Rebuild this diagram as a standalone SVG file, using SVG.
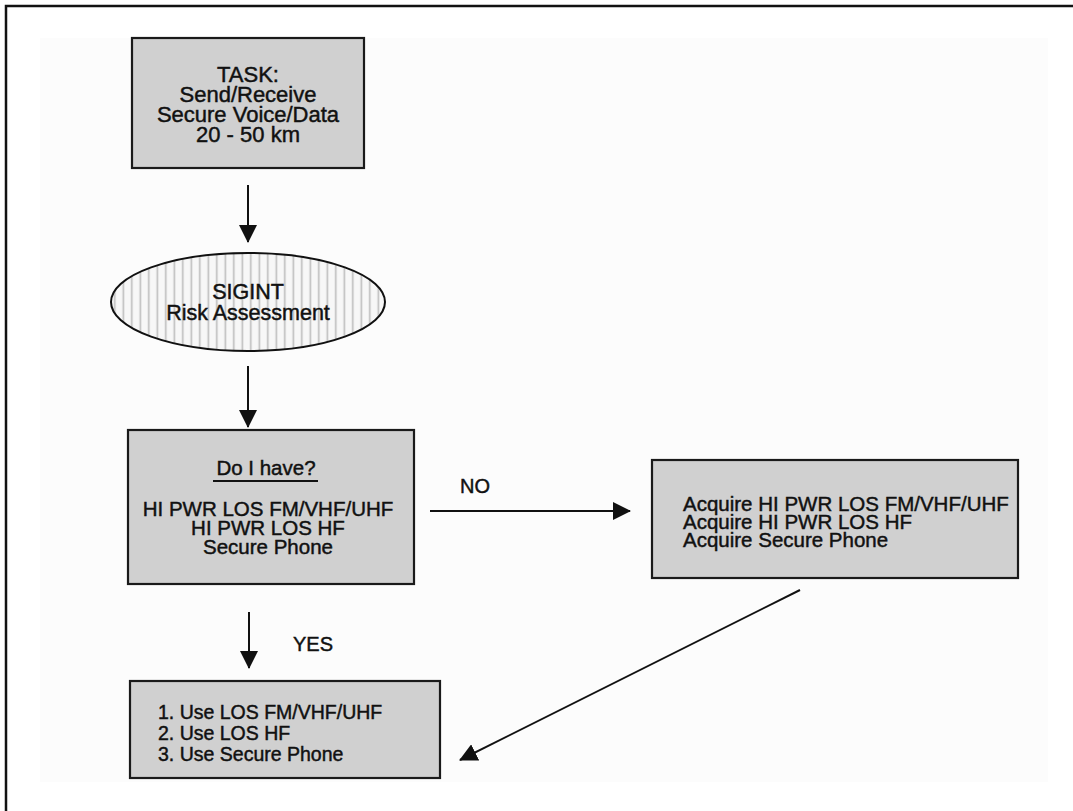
<svg xmlns="http://www.w3.org/2000/svg" width="1073" height="811" viewBox="0 0 1073 811">
<defs>
<style>
.t{font-family:"Liberation Sans",Arial,Helvetica,sans-serif;fill:#111;stroke:#111;stroke-width:0.45;}
.box{fill:#d0d0d0;stroke:#1a1a1a;stroke-width:2.2;}
.con{stroke:#111;stroke-width:2;fill:none;}
</style>
<pattern id="vstripes" patternUnits="userSpaceOnUse" width="8.5" height="10">
<rect x="0" y="0" width="8.5" height="10" fill="#f7f7f7"/>
<rect x="3.5" y="0" width="1.6" height="10" fill="#bdbdbd"/>
</pattern>
<marker id="ah" markerUnits="userSpaceOnUse" markerWidth="18" markerHeight="18" viewBox="0 0 18 18" refX="17" refY="9" orient="auto">
<path d="M0,0 L18,9 L0,18 Z" fill="#111"/>
</marker>
</defs>
<rect x="0" y="0" width="1073" height="811" fill="#ffffff"/>
<rect x="40" y="38" width="1008" height="744" fill="#fcfcfc"/>
<path d="M6,811 L6,6 L1073,6" fill="none" stroke="#111" stroke-width="2.5"/>

<g id="task">
<rect class="box" x="132" y="38" width="232" height="130"/>
<text class="t" font-size="22" text-anchor="middle" x="248" y="82">TASK:</text>
<text class="t" font-size="22" text-anchor="middle" x="248" y="102">Send/Receive</text>
<text class="t" font-size="22" text-anchor="middle" x="248" y="122">Secure Voice/Data</text>
<text class="t" font-size="22" text-anchor="middle" x="248" y="142">20 - 50 km</text>
</g>

<g id="sigint">
<ellipse cx="248" cy="302" rx="137" ry="49" fill="url(#vstripes)" stroke="#111" stroke-width="2"/>
<text class="t" font-size="21.5" text-anchor="middle" x="248" y="299">SIGINT</text>
<text class="t" font-size="21.5" text-anchor="middle" x="248" y="320">Risk Assessment</text>
</g>

<g id="doihave">
<rect class="box" x="128" y="430" width="286" height="154"/>
<text class="t" font-size="20.5" text-anchor="middle" x="266" y="475">Do I have?</text>
<line x1="213" y1="481" x2="318" y2="481" stroke="#111" stroke-width="1.8"/>
<text class="t" font-size="20.5" text-anchor="middle" x="268" y="516">HI PWR LOS FM/VHF/UHF</text>
<text class="t" font-size="20.5" text-anchor="middle" x="268" y="535">HI PWR LOS HF</text>
<text class="t" font-size="20.5" text-anchor="middle" x="268" y="554">Secure Phone</text>
</g>

<g id="acquire">
<rect class="box" x="652" y="460" width="366" height="118"/>
<text class="t" font-size="20.5" x="683" y="511">Acquire HI PWR LOS FM/VHF/UHF</text>
<text class="t" font-size="20.5" x="683" y="529">Acquire HI PWR LOS HF</text>
<text class="t" font-size="20.5" x="683" y="547">Acquire Secure Phone</text>
</g>

<g id="use">
<rect class="box" x="130" y="681" width="310" height="97"/>
<text class="t" font-size="19.5" x="158" y="719">1. Use LOS FM/VHF/UHF</text>
<text class="t" font-size="19.5" x="158" y="740">2. Use LOS HF</text>
<text class="t" font-size="19.5" x="158" y="761">3. Use Secure Phone</text>
</g>

<g id="connectors">
<line class="con" x1="248" y1="185" x2="248" y2="242" marker-end="url(#ah)"/>
<line class="con" x1="248" y1="366" x2="248" y2="427" marker-end="url(#ah)"/>
<line class="con" x1="430" y1="511" x2="630" y2="511" marker-end="url(#ah)"/>
<line class="con" x1="249" y1="612" x2="249" y2="668" marker-end="url(#ah)"/>
<line class="con" x1="800" y1="590" x2="460" y2="760" marker-end="url(#ah)"/>
<text class="t" font-size="20" x="460" y="493">NO</text>
<text class="t" font-size="20" x="293" y="651">YES</text>
</g>
</svg>
